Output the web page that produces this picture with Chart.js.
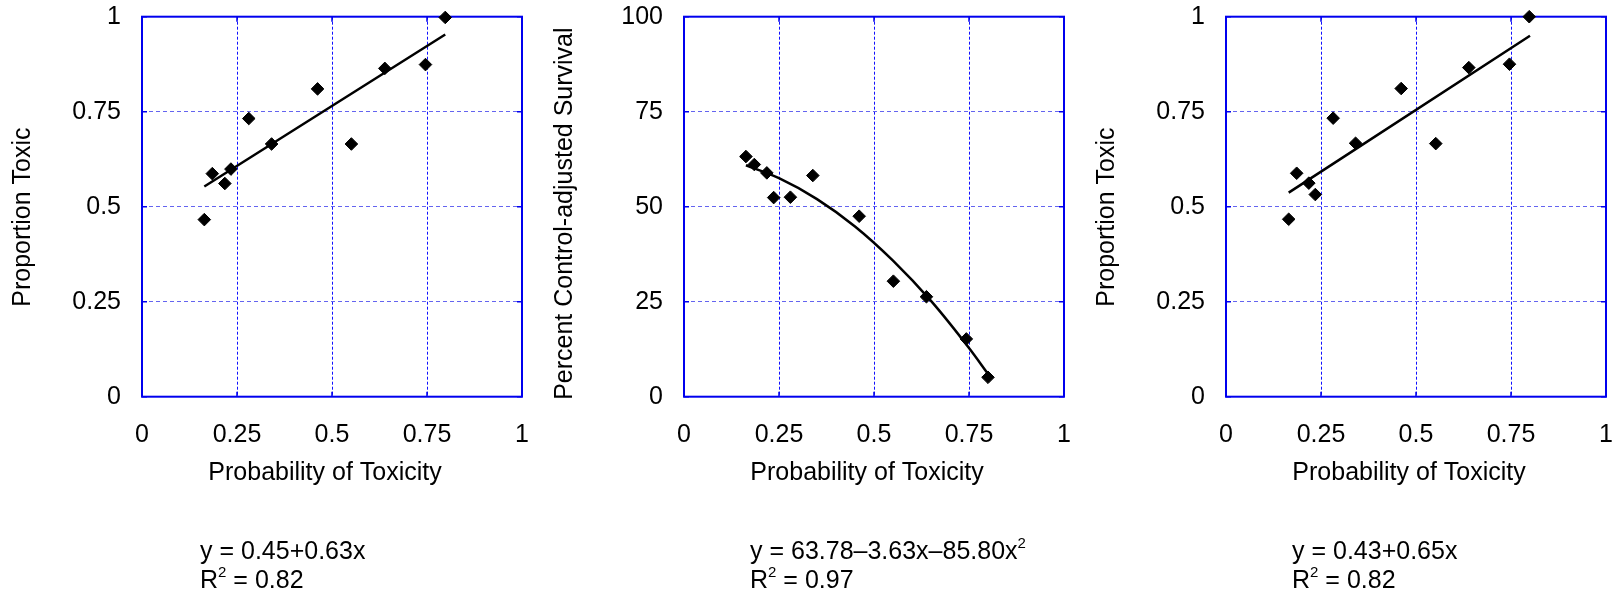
<!DOCTYPE html>
<html>
<head>
<meta charset="utf-8">
<script src="https://cdn.jsdelivr.net/npm/chart.js@4.4.1/dist/chart.umd.min.js"></script>
<style>
  body { margin: 0; background: #fff; width: 1615px; height: 589px; overflow: hidden; position: relative; font-family: "Liberation Sans", Arial, sans-serif; }
  canvas { position: absolute; top: 0; }
  .eq { position: absolute; top: 536px; font-size: 25px; line-height: 29px; color: #000; white-space: nowrap; }
  .eq sup { font-size: 15px; position: relative; top: -11px; vertical-align: baseline; line-height: 0; }
</style>
</head>
<body>
<canvas id="c1" width="540" height="589" style="left:0px"></canvas>
<canvas id="c2" width="540" height="589" style="left:542px"></canvas>
<canvas id="c3" width="531" height="589" style="left:1084px"></canvas>
<div class="eq" style="left:200px">y = 0.45+0.63x<br>R<sup>2</sup> = 0.82</div>
<div class="eq" style="left:750px">y = 63.78–3.63x–85.80x<sup>2</sup><br>R<sup>2</sup> = 0.97</div>
<div class="eq" style="left:1292px">y = 0.43+0.65x<br>R<sup>2</sup> = 0.82</div>
<script>
// left panel: proportion toxic
const prob1 = [0.164, 0.185, 0.218, 0.234, 0.281, 0.341, 0.462, 0.551, 0.639, 0.746, 0.798];
const tox1 = [0.466, 0.587, 0.561, 0.599, 0.732, 0.665, 0.810, 0.665, 0.864, 0.874, 0.998];
const fitX1 = [0.164, 0.798];
const fitY1 = [0.553, 0.953];

// middle panel: percent control-adjusted survival
const prob2 = [0.163, 0.185, 0.218, 0.236, 0.280, 0.339, 0.461, 0.551, 0.638, 0.743, 0.800];
const surv2 = [63.2, 61.1, 58.9, 52.4, 52.5, 58.2, 47.5, 30.4, 26.3, 15.2, 5.1];
const fitX2 = [0.163, 0.25, 0.35, 0.45, 0.55, 0.65, 0.75, 0.80];
const fitY2 = [60.9, 57.5, 52.0, 44.8, 35.8, 25.2, 12.8, 6.0];

// right panel: proportion toxic
const prob3 = [0.165, 0.186, 0.218, 0.235, 0.282, 0.341, 0.461, 0.552, 0.639, 0.746, 0.798];
const tox3 = [0.467, 0.588, 0.562, 0.532, 0.733, 0.667, 0.811, 0.666, 0.866, 0.875, 1.0];
const fitX3 = [0.165, 0.80];
const fitY3 = [0.537, 0.95];

// tick values and their labels
const xTicks = [0, 0.25, 0.5, 0.75, 1];
const xTickLabels = ['0', '0.25', '0.5', '0.75', '1'];
const propTicks = [0, 0.25, 0.5, 0.75, 1];
const propTickLabels = ['0', '0.25', '0.5', '0.75', '1'];
const survTicks = [0, 25, 50, 75, 100];
const survTickLabels = ['0', '25', '50', '75', '100'];
// trailing spaces nudge the centred titles off the plot centre, as in the original
const xTitle = 'Probability of Toxicity  ';

const FONT = "'Liberation Sans', Arial, sans-serif";
const BLUE = '#0000ee';

// solid blue box round the plot, with small inner ticks
const framePlugin = {
    id: 'frame',
    beforeDatasetsDraw(chart) {
        const {ctx, chartArea: a, scales} = chart;
        ctx.save();
        ctx.strokeStyle = BLUE;
        ctx.lineWidth = 2;
        ctx.strokeRect(a.left, a.top, a.right - a.left, a.bottom - a.top);
        ctx.lineWidth = 1.5;
        ctx.beginPath();
        scales.x.ticks.forEach(t => {
            const px = scales.x.getPixelForValue(t.value);
            ctx.moveTo(px, a.bottom); ctx.lineTo(px, a.bottom - 5);
            ctx.moveTo(px, a.top); ctx.lineTo(px, a.top + 5);
        });
        scales.y.ticks.forEach(t => {
            const py = scales.y.getPixelForValue(t.value);
            ctx.moveTo(a.left, py); ctx.lineTo(a.left + 5, py);
            ctx.moveTo(a.right, py); ctx.lineTo(a.right - 5, py);
        });
        ctx.stroke();
        ctx.restore();
    }
};

function pts(xs, ys) {
    return xs.map((x, i) => ({x: x, y: ys[i]}));
}

function makePanel(id, xs, ys, fx, fy, yTicks, yLabels, yTitle, padRight) {
    const yMax = yTicks[yTicks.length - 1];
    return new Chart(document.getElementById(id), {
        type: 'scatter',
        data: {
            datasets: [{
                data: pts(xs, ys),
                pointStyle: 'rectRot',
                pointRadius: 6.3,
                pointBackgroundColor: '#000',
                pointBorderColor: '#000',
                pointBorderWidth: 1,
                showLine: false,
                clip: false
            }, {
                data: pts(fx, fy),
                showLine: true,
                borderColor: '#000',
                borderWidth: 2.5,
                pointRadius: 0,
                tension: 0.4,
                cubicInterpolationMode: 'monotone',
                clip: false
            }]
        },
        options: {
            responsive: false,
            animation: false,
            layout: {padding: {top: 16.7, right: padRight, bottom: 0, left: 0}},
            plugins: {legend: {display: false}, tooltip: {enabled: false}},
            scales: {
                x: {
                    type: 'linear', min: 0, max: 1,
                    afterBuildTicks: s => { s.ticks = xTicks.map(v => ({value: v})); },
                    afterFit: s => { s.height = 192.3; s.paddingLeft = 0; s.paddingRight = 0; },
                    ticks: {
                        color: '#000', font: {family: FONT, size: 25}, padding: 23, autoSkip: false, maxRotation: 0,
                        callback: (v, i) => xTickLabels[i]
                    },
                    grid: {color: '#1010ff', lineWidth: 1, drawTicks: false},
                    border: {display: false, dash: [3, 2]},
                    title: {display: true, text: xTitle, color: '#000', font: {family: FONT, size: 25}, padding: {top: 0, bottom: 101}}
                },
                y: {
                    type: 'linear', min: 0, max: yMax,
                    afterBuildTicks: s => { s.ticks = yTicks.map(v => ({value: v})); },
                    afterFit: s => { s.width = 142; s.paddingTop = 0; s.paddingBottom = 0; },
                    ticks: {
                        color: '#000', font: {family: FONT, size: 25}, padding: 21,
                        callback: (v, i) => yLabels[i]
                    },
                    grid: {color: '#6464f0', lineWidth: 1, drawTicks: false},
                    border: {display: false, dash: [4, 3]},
                    title: {display: true, text: yTitle, color: '#000', font: {family: FONT, size: 25}, padding: {top: 8, bottom: 0}}
                }
            }
        },
        plugins: [framePlugin]
    });
}

makePanel('c1', prob1, tox1, fitX1, fitY1, propTicks, propTickLabels, 'Proportion Toxic   ', 18);
makePanel('c2', prob2, surv2, fitX2, fitY2, survTicks, survTickLabels, 'Percent Control-adjusted Survival  ', 18);
makePanel('c3', prob3, tox3, fitX3, fitY3, propTicks, propTickLabels, 'Proportion Toxic   ', 9);
</script>
</body>
</html>
